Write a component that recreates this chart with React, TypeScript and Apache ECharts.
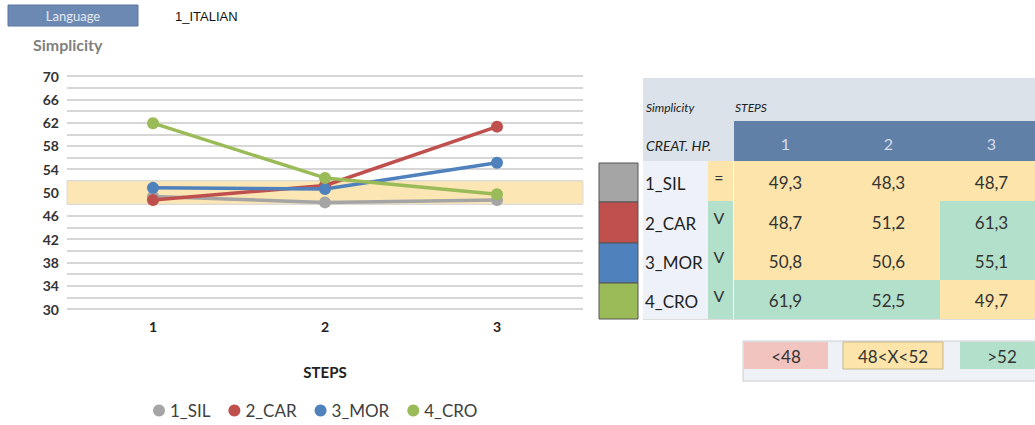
import React, { useEffect, useRef } from "react";
import * as echarts from "echarts";

const steps = ["1", "2", "3"];
const seriesNames = ["1_SIL", "2_CAR", "3_MOR", "4_CRO"];
const silValues = [49.3, 48.3, 48.7];
const carValues = [48.7, 51.2, 61.3];
const morValues = [50.8, 50.6, 55.1];
const croValues = [61.9, 52.5, 49.7];
const signs = ["=", "V", "V", "V"];
const seriesColors = ["#A5A5A5", "#C0504D", "#4F81BD", "#9BBB59"];
const bandLow = 48;
const bandHigh = 52;
const thresholdLabels = ["<48", "48<X<52", ">52"];
const languageLabel = "Language";
const languageValue = "1_ITALIAN";
const chartTitle = "Simplicity";

const allValues = [silValues, carValues, morValues, croValues];

const PINK = "#F2C4C0";
const YELLOW = "#FCE4AA";
const GREEN = "#B3E0CB";
const FONT = "Lato, 'Open Sans', sans-serif";

function cellColor(v: number) {
  if (v < bandLow) return PINK;
  if (v > bandHigh) return GREEN;
  return YELLOW;
}

function buildGraphics() {
  const g: any[] = [];
  // top-left header
  g.push({ type: "rect", shape: { x: 8, y: 5, width: 130, height: 21 }, style: { fill: "#6C89B3", stroke: "#5A77A0", lineWidth: 1 } });
  g.push({ type: "text", x: 73, y: 16, style: { text: languageLabel, fill: "#E4E9F1", font: `13px ${FONT}`, align: "center", verticalAlign: "middle" } });
  g.push({ type: "text", x: 175, y: 16, style: { text: languageValue, fill: "#111", font: `13px 'Liberation Sans', Arial, sans-serif`, align: "left", verticalAlign: "middle" } });
  g.push({ type: "text", x: 33, y: 44, style: { text: chartTitle, fill: "#7F7F7F", font: `bold 16px ${FONT}`, align: "left", verticalAlign: "middle" } });

  // table header
  const tx = 643;
  const right = 1035;
  g.push({ type: "rect", shape: { x: tx, y: 78, width: right - tx, height: 83 }, style: { fill: "#DCE2EA" } });
  g.push({ type: "rect", shape: { x: 734, y: 121, width: right - 734, height: 40 }, style: { fill: "#6180A8" } });
  g.push({ type: "text", x: 646, y: 107, style: { text: chartTitle, fill: "#222", font: `italic 12px ${FONT}`, verticalAlign: "middle" } });
  g.push({ type: "text", x: 735, y: 107, style: { text: "STEPS", fill: "#222", font: `italic 12px ${FONT}`, verticalAlign: "middle" } });
  g.push({ type: "text", x: 646, y: 145, style: { text: "CREAT. HP.", fill: "#222", font: `italic 14px ${FONT}`, verticalAlign: "middle" } });
  const colX = [734, 837, 940, 1043];
  steps.forEach((s, i) => {
    g.push({ type: "text", x: (colX[i] + colX[i + 1]) / 2, y: 143, style: { text: s, fill: "#D5DDE9", font: `16px ${FONT}`, align: "center", verticalAlign: "middle" } });
  });

  // rows
  const rowY = [161, 201, 241, 280, 319];
  const swY = [163, 202, 243, 283, 319];
  seriesNames.forEach((name, r) => {
    const y0 = rowY[r];
    const h = rowY[r + 1] - y0;
    const vals = allValues[r];
    g.push({ type: "rect", shape: { x: 599, y: swY[r], width: 39, height: swY[r + 1] - swY[r] }, style: { fill: seriesColors[r], stroke: "#555", lineWidth: 1 } });
    g.push({ type: "rect", shape: { x: tx, y: y0, width: 65, height: h }, style: { fill: "#EEF2F8" } });
    g.push({ type: "text", x: 645, y: y0 + h / 2 + 2, style: { text: name, fill: "#222", font: `17px ${FONT}`, verticalAlign: "middle" } });
    const signFill = signs[r] === "=" ? YELLOW : GREEN;
    g.push({ type: "rect", shape: { x: 708, y: y0, width: 25, height: h }, style: { fill: signFill } });
    g.push({ type: "text", x: 719, y: y0 + h / 2 - 4, style: { text: signs[r], fill: "#333", font: `16px ${FONT}`, align: "center", verticalAlign: "middle" } });
    vals.forEach((v, c) => {
      g.push({ type: "rect", shape: { x: colX[c], y: y0, width: colX[c + 1] - colX[c], height: h }, style: { fill: cellColor(v) } });
      g.push({ type: "text", x: (colX[c] + colX[c + 1]) / 2, y: y0 + h / 2 + 1, style: { text: v.toFixed(1).replace(".", ","), fill: "#333", font: `17px ${FONT}`, align: "center", verticalAlign: "middle" } });
    });
  });
  g.push({ type: "line", shape: { x1: 733.5, y1: 161, x2: 733.5, y2: 319 }, style: { stroke: "#fff", lineWidth: 1 } });
  g.push({ type: "line", shape: { x1: 643, y1: 319.5, x2: 1035, y2: 319.5 }, style: { stroke: "#ddd", lineWidth: 1 } });

  // threshold legend
  g.push({ type: "rect", shape: { x: 743, y: 341, width: 300, height: 40 }, style: { fill: "#EEF1F6", stroke: "#C8CCD2", lineWidth: 1 } });
  const tBoxes = [
    { x: 744, w: 84, fill: PINK },
    { x: 843, w: 100, fill: YELLOW },
    { x: 960, w: 80, fill: GREEN },
  ];
  tBoxes.forEach((b, i) => {
    g.push({ type: "rect", shape: { x: b.x, y: 342, width: b.w, height: 27 }, style: { fill: b.fill, stroke: i === 1 ? "#C8B98A" : null, lineWidth: 1 } });
    g.push({ type: "text", x: b.x + (i === 2 ? 42 : b.w / 2), y: 356, style: { text: thresholdLabels[i], fill: "#333", font: `17px ${FONT}`, align: "center", verticalAlign: "middle" } });
  });
  return g;
}

export default function App() {
  const ref = useRef<HTMLDivElement>(null);
  useEffect(() => {
    if (!ref.current) return;
    const chart = echarts.init(ref.current, null, { renderer: "svg" });
    const series: any[] = seriesNames.map((name, i) => ({
      name,
      type: "line",
      data: allValues[i],
      symbol: "circle",
      symbolSize: 12,
      lineStyle: { width: 3.5, color: seriesColors[i] },
      itemStyle: { color: seriesColors[i] },
      z: 3,
    }));
    series[0].markArea = {
      silent: true,
      itemStyle: { color: "#FCE6B4", borderColor: "#DADADA", borderWidth: 1 },
      data: [[{ yAxis: bandLow }, { yAxis: bandHigh }]],
    };
    chart.setOption({
      animation: false,
      textStyle: { fontFamily: FONT },
      grid: { left: 67, right: 1035 - 583, top: 76, bottom: 425 - 309, containLabel: false },
      xAxis: {
        type: "category",
        data: steps,
        boundaryGap: true,
        axisLine: { show: false },
        axisTick: { show: false },
        axisLabel: { color: "#222", fontWeight: "bold", fontSize: 14, margin: 10, fontFamily: FONT },
        name: "STEPS",
        nameLocation: "middle",
        nameGap: 55,
        nameTextStyle: { color: "#222", fontWeight: "bold", fontSize: 15, fontFamily: FONT },
      },
      yAxis: {
        type: "value",
        min: 30,
        max: 70,
        interval: 2,
        axisLine: { show: false },
        axisTick: { show: false },
        splitLine: { lineStyle: { color: "#D6D6D6", width: 2 } },
        axisLabel: {
          color: "#333",
          fontWeight: "bold",
          fontSize: 14,
          margin: 8,
          fontFamily: FONT,
          formatter: (v: number) => ((v - 30) % 4 === 0 ? String(v) : ""),
        },
      },
      legend: {
        left: 148,
        top: 397,
        icon: "circle",
        itemWidth: 12,
        itemHeight: 12,
        itemGap: 18,
        textStyle: { color: "#404040", fontSize: 17, fontFamily: FONT },
        data: seriesNames,
      },
      series,
      graphic: buildGraphics(),
    });
    return () => chart.dispose();
  }, []);
  return <div ref={ref} style={{ position: "absolute", left: 0, top: 0, width: 1035, height: 425 }} />;
}
